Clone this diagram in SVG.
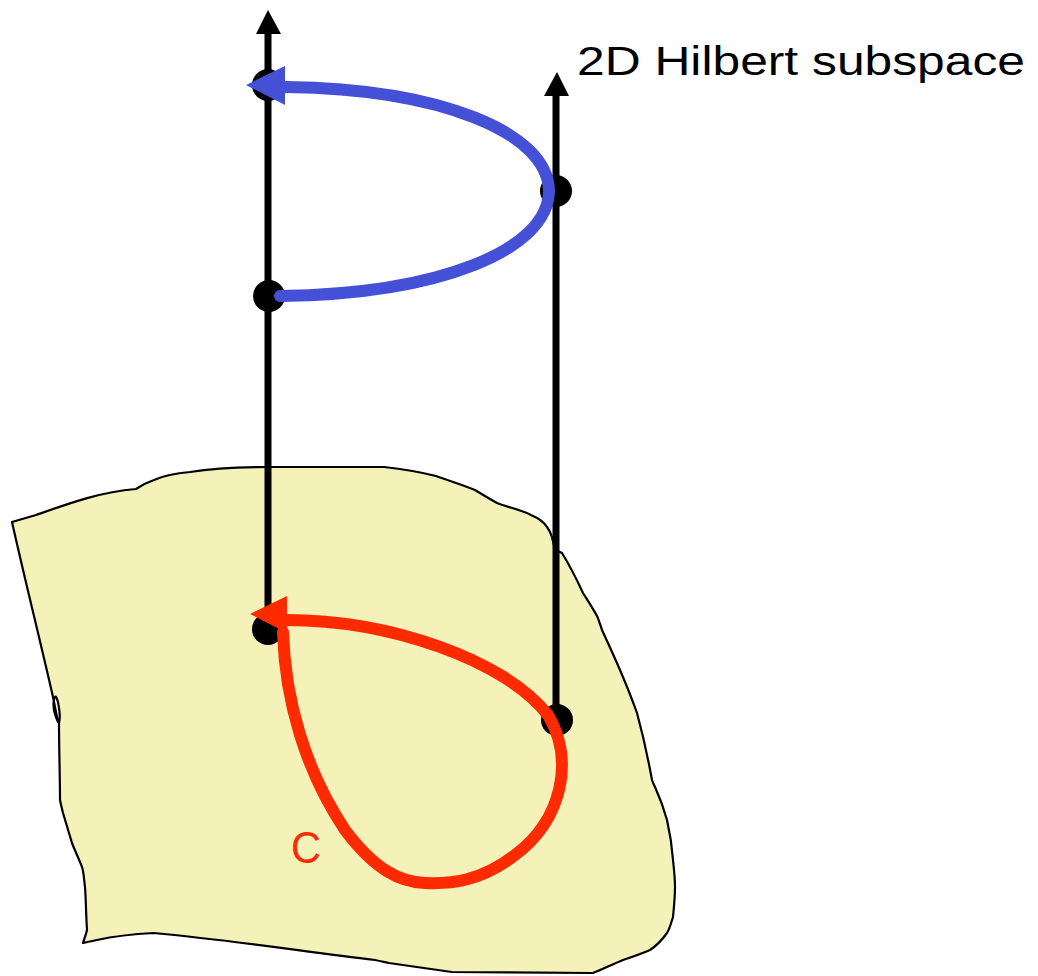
<svg xmlns="http://www.w3.org/2000/svg" width="1038" height="976" viewBox="0 0 1038 976">
<style>
.axis{stroke:#000;stroke-width:7;fill:none}
.dot{fill:#000}
.blue{stroke:#4450D6;stroke-width:12;fill:none;stroke-linecap:round}
.red{stroke:#FF2A00;stroke-width:12;fill:none;stroke-linecap:round}
.label{font-family:"Liberation Sans",Arial,sans-serif}
</style>
<rect width="1038" height="976" fill="#fff"/>
<g id="manifold">
<path d="M12 522 L36 515 C70 503 100 492 136 489 C142 485 148 482 154 480 C165 475 178 473 190 472 C215 468 245 467 271 467 L384 467 C402 469 420 472 436 476 C450 481 463 485 475 490 C483 495 490 499 497 503 C510 508 522 510 531 515 C538 518 544 522 547 527 C550 531 551 534 552 537 L555 550 C558 551 560 552 562 553 C570 566 577 580 583 593 C588 601 594 610 598 618 C599 622 601 626 602 630 C608 643 614 656 620 670 C626 684 632 699 637 713 C643 735 648 758 652 780 C653 783 654 785 655 787 C660 798 664 809 667 820 C670 833 672 846 673 860 C674 869 675 878 675 887 C675 897 674 907 673 917 C671 923 670 928 667 933 C662 940 656 946 650 950 C641 954 632 957 623 960 C613 964 603 969 593 973 L452 972 C430 969 410 966 389 963 C384 962 380 961 375 960 C300 951 230 940 154 933 C135 934 115 936 97 940 C92 941 87 942 83 943 C84 939 86 935 87 930 C86 915 86 900 85 887 C84 880 84 873 82 867 C79 859 75 851 72 843 C69 833 66 823 63 813 C62 809 61 805 60 800 C60 775 59 749 59 723 C60 719 60 714 59 708 C58 700 56 695 55 697 C53 700 53 708 55 714 C56 718 57 720 58 722 L53 697 C40 640 25 580 12 522 Z" fill="#F5F2B9" stroke="#000" stroke-width="2.2" stroke-linejoin="round"/>
</g>
<g id="left-axis">
<line class="axis" x1="268" y1="30" x2="268" y2="628"/>
<polygon points="268,10 256,34 281,34" fill="#000"/>
</g>
<g id="right-axis">
<line class="axis" x1="556" y1="92" x2="556" y2="720"/>
<polygon points="557,72 544,96 569,96" fill="#000"/>
</g>
<g id="hilbert-label">
<text class="label" x="577" y="75" font-size="41" textLength="448" lengthAdjust="spacingAndGlyphs" fill="#000">2D Hilbert subspace</text>
</g>
<g id="dots">
<circle id="dot-top-left" class="dot" cx="268" cy="85" r="16"/>
<circle id="dot-mid-left" class="dot" cx="269" cy="296" r="16"/>
<circle id="dot-right" class="dot" cx="556" cy="191" r="16"/>
<circle id="dot-bottom-left" class="dot" cx="268" cy="629" r="16"/>
<circle id="dot-bottom-right" class="dot" cx="557" cy="720" r="16"/>
</g>
<g id="connectors">
<g id="blue-path">
<path class="blue" d="M280 296 C440 294 548 250 549 191 C548 132 440 89 286 87"/>
<polygon points="246,85 285,66 285,105" fill="#4450D6"/>
</g>
<g id="red-loop">
<path class="red" d="M286 620 C390 620 505 660 548 715 C575 760 562 820 515 855 C480 882 450 884 425 883 C400 882 375 870 345 830 C305 770 285 700 283 632"/>
<polygon points="250,614 287,596 287,633" fill="#FF2A00"/>
</g>
</g>
<g id="c-label">
<text class="label" x="291" y="863" font-size="45" textLength="30" lengthAdjust="spacingAndGlyphs" fill="#FF2A00">C</text>
</g>
</svg>
